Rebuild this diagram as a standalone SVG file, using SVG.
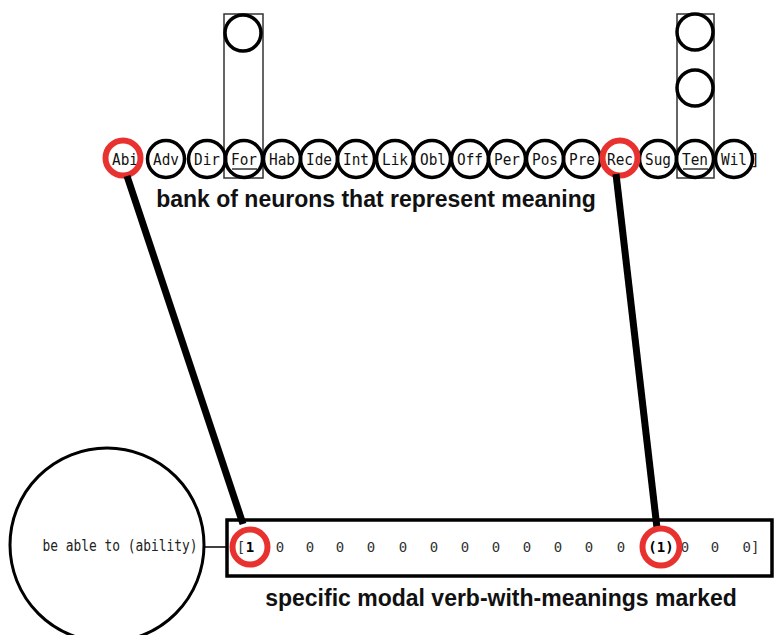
<svg xmlns="http://www.w3.org/2000/svg" width="779" height="635" viewBox="0 0 779 635">
<style>
.n{fill:none;stroke:#000;stroke-width:3.5}
.r{fill:none;stroke:#e8322f;stroke-width:6}
.lbl{font-family:"DejaVu Sans Mono",monospace;font-size:16px;text-anchor:middle;fill:#111}
.v{font-family:"DejaVu Sans Mono",monospace;font-size:14px;text-anchor:middle;fill:#333}
.t{font-family:"Liberation Sans",Arial,sans-serif;font-size:23px;font-weight:bold;fill:#111;text-anchor:middle}
.box{fill:none;stroke:#333;stroke-width:1.5}
</style>
<rect width="779" height="635" fill="#fff"/>
<g id="columns">
<rect class="box" x="224" y="14" width="39" height="164"/>
<circle class="n" cx="243" cy="33" r="18"/>
<rect class="box" x="677" y="14" width="37" height="164"/>
<circle class="n" cx="695" cy="32" r="18"/>
<circle class="n" cx="695" cy="88" r="18"/>
</g>
<g id="bank">
<g class="lbl">
<text x="125" y="165" textLength="26" lengthAdjust="spacingAndGlyphs">Abi</text>
<text x="166" y="165" textLength="26" lengthAdjust="spacingAndGlyphs">Adv</text>
<text x="207" y="165" textLength="26" lengthAdjust="spacingAndGlyphs">Dir</text>
<text x="244" y="165" textLength="26" lengthAdjust="spacingAndGlyphs">For</text>
<text x="282" y="165" textLength="26" lengthAdjust="spacingAndGlyphs">Hab</text>
<text x="319" y="165" textLength="26" lengthAdjust="spacingAndGlyphs">Ide</text>
<text x="356" y="165" textLength="26" lengthAdjust="spacingAndGlyphs">Int</text>
<text x="395" y="165" textLength="26" lengthAdjust="spacingAndGlyphs">Lik</text>
<text x="433" y="165" textLength="26" lengthAdjust="spacingAndGlyphs">Obl</text>
<text x="470" y="165" textLength="26" lengthAdjust="spacingAndGlyphs">Off</text>
<text x="507" y="165" textLength="26" lengthAdjust="spacingAndGlyphs">Per</text>
<text x="545" y="165" textLength="26" lengthAdjust="spacingAndGlyphs">Pos</text>
<text x="582" y="165" textLength="26" lengthAdjust="spacingAndGlyphs">Pre</text>
<text x="620" y="165" textLength="26" lengthAdjust="spacingAndGlyphs">Rec</text>
<text x="658" y="165" textLength="26" lengthAdjust="spacingAndGlyphs">Sug</text>
<text x="695" y="165" textLength="26" lengthAdjust="spacingAndGlyphs">Ten</text>
<text x="734" y="165" textLength="26" lengthAdjust="spacingAndGlyphs">Wil</text>
<text x="755" y="165">]</text>
</g>
<line x1="232" y1="169" x2="257" y2="169" stroke="#000" stroke-width="1.2"/>
<line x1="683" y1="169" x2="708" y2="169" stroke="#000" stroke-width="1.2"/>
<circle class="n" cx="166" cy="159" r="18.5"/>
<circle class="n" cx="207" cy="159" r="18.5"/>
<circle class="n" cx="244" cy="159" r="18.5"/>
<circle class="n" cx="282" cy="159" r="18.5"/>
<circle class="n" cx="319" cy="159" r="18.5"/>
<circle class="n" cx="356" cy="159" r="18.5"/>
<circle class="n" cx="395" cy="159" r="18.5"/>
<circle class="n" cx="432" cy="159" r="18.5"/>
<circle class="n" cx="470" cy="159" r="18.5"/>
<circle class="n" cx="507" cy="159" r="18.5"/>
<circle class="n" cx="545" cy="159" r="18.5"/>
<circle class="n" cx="582" cy="159" r="18.5"/>
<circle class="n" cx="658" cy="159" r="18.5"/>
<circle class="n" cx="695" cy="159" r="18.5"/>
<circle class="n" cx="734" cy="159" r="18.5"/>
<circle class="r" cx="123" cy="158" r="17.5"/>
<circle class="r" cx="620" cy="158" r="17.5"/>
<text class="t" x="376" y="207">bank of neurons that represent meaning</text>
</g>
<g id="connectors">
<line x1="127" y1="176" x2="243" y2="524" stroke="#000" stroke-width="7"/>
<line x1="616" y1="174" x2="657" y2="528" stroke="#000" stroke-width="7"/>
<line x1="204" y1="547" x2="227" y2="547" stroke="#000" stroke-width="1.5"/>
</g>
<g id="verb">
<circle cx="107" cy="545" r="97" fill="none" stroke="#000" stroke-width="3"/>
<text x="120" y="551" font-family="DejaVu Sans Mono,monospace" font-size="15" text-anchor="middle" fill="#222" textLength="155" lengthAdjust="spacingAndGlyphs">be able to (ability)</text>
</g>
<g id="vector">
<rect x="227" y="520" width="545" height="56" fill="none" stroke="#000" stroke-width="3.5"/>
<g class="v">
<text x="241" y="552">[</text>
<text x="250" y="552" font-weight="bold" fill="#000">1</text>
<text x="280" y="552">0</text>
<text x="310" y="552">0</text>
<text x="340" y="552">0</text>
<text x="371" y="552">0</text>
<text x="403" y="552">0</text>
<text x="434" y="552">0</text>
<text x="465" y="552">0</text>
<text x="496" y="552">0</text>
<text x="527" y="552">0</text>
<text x="558" y="552">0</text>
<text x="589" y="552">0</text>
<text x="621" y="552">0</text>
<text x="661" y="552" font-weight="bold" fill="#000">(1)</text>
<text x="685" y="552">0</text>
<text x="715" y="552">0</text>
<text x="751" y="552">0]</text>
</g>
<circle class="r" cx="250" cy="547" r="17.5"/>
<circle class="r" cx="661" cy="547" r="18.5"/>
<text class="t" x="501" y="606">specific modal verb-with-meanings marked</text>
</g>
</svg>
